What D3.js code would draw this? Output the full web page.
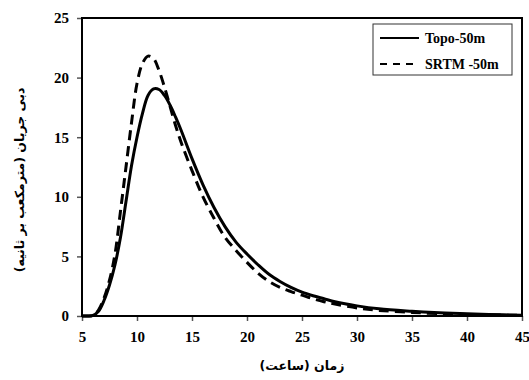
<!DOCTYPE html>
<html>
<head>
<meta charset="utf-8">
<script src="https://cdn.jsdelivr.net/npm/d3@7"></script>
<style>
  body { margin: 0; background: #fff; }
  .fa { font-family: "DejaVu Sans", sans-serif; font-weight: bold; font-size: 12.5px; }
  .legend text { font-family: "Liberation Serif", serif; font-weight: bold; font-size: 14px; }
</style>
</head>
<body>
<div id="chart"></div>
<script>
// Time (hours) and discharge (m3/s)
const hours = [5, 5.5, 6, 6.5, 7, 7.5, 8, 8.5, 9, 9.5, 10, 10.5, 11, 11.5, 12, 12.5, 13, 13.5, 14, 15, 16, 17, 18, 19, 20, 21, 22, 23, 24, 25, 26, 27, 28, 30, 32, 35, 38, 40, 42, 45];
const topo = [0, 0, 0.05, 0.4, 1.3, 2.6, 4.3, 6.6, 9.6, 12.6, 15.0, 17.0, 18.5, 19.05, 19.0, 18.5, 17.7, 16.7, 15.6, 13.2, 11.0, 9.1, 7.5, 6.2, 5.2, 4.3, 3.5, 2.9, 2.4, 2.0, 1.7, 1.45, 1.2, 0.85, 0.6, 0.4, 0.25, 0.18, 0.12, 0.07];
const srtm = [0, 0, 0.05, 0.5, 1.5, 3.0, 5.2, 8.8, 12.5, 16.2, 19.5, 21.2, 21.8, 21.6, 20.6, 19.2, 17.6, 16.0, 14.6, 12.2, 10.0, 8.2, 6.6, 5.5, 4.5, 3.6, 2.9, 2.4, 2.05, 1.75, 1.45, 1.2, 1.0, 0.68, 0.47, 0.3, 0.18, 0.13, 0.09, 0.05];
const xTicks = [5, 10, 15, 20, 25, 30, 35, 40, 45];
const yTicks = [0, 5, 10, 15, 20, 25];
const seriesNames = ['Topo-50m', 'SRTM -50m'];

const width = 529, height = 380;
const margin = {top: 18, right: 7, bottom: 64, left: 82};
const w = width - margin.left - margin.right;
const h = height - margin.top - margin.bottom;

const svg = d3.select('#chart').append('svg')
    .attr('width', width)
    .attr('height', height);
const g = svg.append('g')
    .attr('transform', `translate(${margin.left},${margin.top})`);

const x = d3.scaleLinear().domain([5, 45]).range([0, w]);
const y = d3.scaleLinear().domain([0, 25]).range([h, 0]);

// Axes
const xAxis = g.append('g')
    .attr('transform', `translate(0,${h})`)
    .call(d3.axisBottom(x).tickValues(xTicks).tickSize(5).tickPadding(10));
const yAxis = g.append('g')
    .call(d3.axisLeft(y).tickValues(yTicks).tickSize(5).tickPadding(8));
[xAxis, yAxis].forEach(a => {
  a.select('.domain').remove();
  a.selectAll('.tick line').attr('stroke', '#555').attr('stroke-width', 1.5);
  a.selectAll('.tick text')
      .attr('fill', '#000')
      .style('font-family', '"Liberation Serif", "Times New Roman", serif')
      .style('font-size', '15px')
      .style('font-weight', 'bold');
});

// Frame
g.append('rect')
    .attr('width', w)
    .attr('height', h)
    .attr('fill', 'none')
    .attr('stroke', '#000')
    .attr('stroke-width', 2);

// Curves
const line = vals => d3.line()
    .x((d, i) => x(hours[i]))
    .y(d => y(d))
    .curve(d3.curveCatmullRom.alpha(0.5))(vals);

g.append('path')
    .attr('d', line(srtm))
    .attr('fill', 'none')
    .attr('stroke', '#000')
    .attr('stroke-width', 3)
    .attr('stroke-dasharray', '10,6');
g.append('path')
    .attr('d', line(topo))
    .attr('fill', 'none')
    .attr('stroke', '#000')
    .attr('stroke-width', 3);

// Legend
const legend = svg.append('g').attr('class', 'legend');
legend.append('rect')
    .attr('x', 373).attr('y', 24)
    .attr('width', 139).attr('height', 51)
    .attr('fill', '#fff')
    .attr('stroke', '#333')
    .attr('stroke-width', 1);
seriesNames.forEach((name, i) => {
  const ly = 38 + i * 26;
  legend.append('line')
      .attr('x1', 380).attr('x2', 419)
      .attr('y1', ly).attr('y2', ly)
      .attr('stroke', '#000')
      .attr('stroke-width', 2)
      .attr('stroke-dasharray', i === 1 ? '7,6' : null);
  legend.append('text')
      .attr('x', 425).attr('y', ly + 5)
      .text(name);
});

// Axis titles
svg.append('text')
    .attr('class', 'fa')
    .attr('x', margin.left + w / 2)
    .attr('y', 370)
    .attr('text-anchor', 'middle')
    .attr('direction', 'rtl')
    .text('زمان (ساعت)');
svg.append('text')
    .attr('class', 'fa')
    .attr('transform', 'translate(24,180) rotate(-90)')
    .attr('text-anchor', 'middle')
    .attr('direction', 'rtl')
    .text('دبی جریان (مترمکعب بر ثانیه)');
</script>
</body>
</html>
